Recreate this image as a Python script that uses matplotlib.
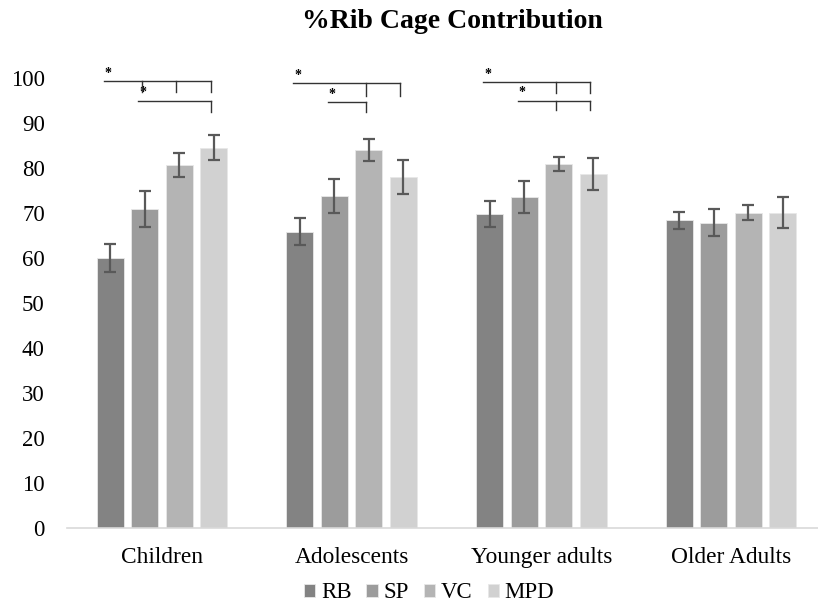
import matplotlib
matplotlib.use("Agg")
import matplotlib.pyplot as plt
import numpy as np

plt.rcParams['font.family'] = ['Liberation Serif', 'DejaVu Serif']

categories = ["Children", "Adolescents", "Younger adults", "Older Adults"]
series = ["RB", "SP", "VC", "MPD"]
values = {
    "RB":  [60.0, 65.8, 69.8, 68.4],
    "SP":  [70.9, 73.8, 73.6, 67.8],
    "VC":  [80.7, 84.0, 80.9, 70.1],
    "MPD": [84.5, 78.0, 78.7, 70.1],
}
errors = {
    "RB":  [3.1, 3.0, 2.9, 1.9],
    "SP":  [4.0, 3.8, 3.5, 3.0],
    "VC":  [2.6, 2.4, 1.5, 1.6],
    "MPD": [2.8, 3.7, 3.5, 3.5],
}
colors = ["#838383", "#9c9c9c", "#b4b4b4", "#d1d1d1"]
yticks = [0, 10, 20, 30, 40, 50, 60, 70, 80, 90, 100]

# significance brackets: (group, from_bar, [tick bars], y_line, tick_bottom)
brackets = [
    (0, 0, [1, 2, 3], 99.3, 96.8),
    (0, 1, [3], 95.0, 92.5),
    (1, 0, [2, 3], 98.9, 96.0),
    (1, 1, [2], 94.6, 92.5),
    (2, 0, [2, 3], 99.1, 96.6),
    (2, 1, [2, 3], 95.0, 93.0),
]

fig = plt.figure(figsize=(8.18, 6.10), dpi=100)
ax = fig.add_axes([67/818, 82/610, (826-67)/818, 450/610])

x = np.arange(len(categories))
pitch = 0.1816
width = 0.142
for j, s in enumerate(series):
    xs = x + (j - 1.5) * pitch
    ax.bar(xs, values[s], width=width, color=colors[j], edgecolor="#e8e8e8",
           linewidth=0.6, label=s, zorder=2)
    ax.errorbar(xs, values[s], yerr=errors[s], fmt="none", ecolor="#595959",
                elinewidth=1.6, capsize=4, capthick=1.6, zorder=3)

for g, b0, ticks, yl, yb in brackets:
    x0 = g + (b0 - 1.5) * pitch - 0.035
    x1 = g + (max(ticks) - 1.5) * pitch - 0.015
    ax.plot([x0, x1], [yl, yl], color="#333333", lw=1.0, clip_on=False, zorder=4)
    for t in ticks:
        xt = g + (t - 1.5) * pitch - 0.015
        ax.plot([xt, xt], [yl, yb], color="#333333", lw=1.0, clip_on=False, zorder=4)
    ax.text(x0 + 0.005, yl + 0.3, "*", ha="left", va="bottom", fontsize=10,
            fontweight="bold", clip_on=False)

ax.set_xlim(-0.5, 3.5)
ax.set_ylim(0, 100)
ax.set_yticks(yticks)
ax.set_xticks(x)
ax.set_xticklabels(categories, fontsize=16.8)
ax.tick_params(axis="y", labelsize=16.5, length=0, pad=16)
ax.tick_params(axis="x", length=0, pad=14)
for sp in ["top", "right", "left"]:
    ax.spines[sp].set_visible(False)
ax.spines["bottom"].set_color("#d9d9d9")
ax.spines["bottom"].set_linewidth(1.2)

fig.suptitle("%Rib Cage Contribution", x=452/818, y=1 - 9/610, va="top",
             fontsize=20, fontweight="bold")

leg = fig.legend(loc="center", bbox_to_anchor=(429/818, 1 - 593/610), ncol=4,
                 frameon=False, fontsize=16.5, handlelength=0.5, handleheight=0.5,
                 handletextpad=0.25, columnspacing=0.65)

fig.savefig("out.png", dpi=100)
